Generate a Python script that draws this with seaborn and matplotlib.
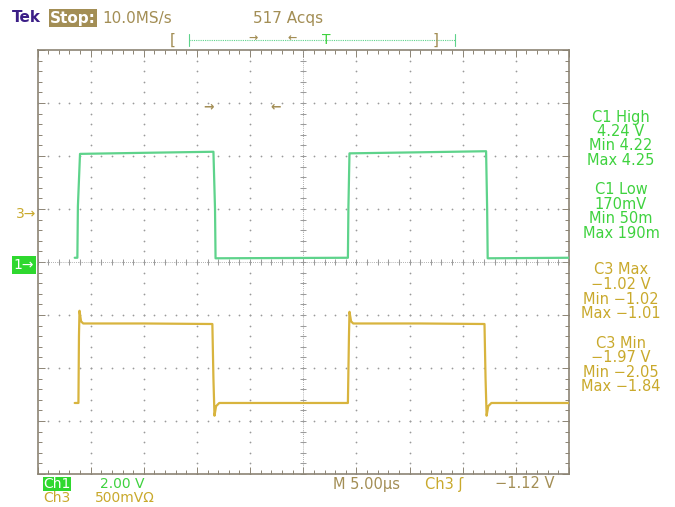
import numpy as np
import pandas as pd
import seaborn as sns
import matplotlib
matplotlib.use("Agg")
import matplotlib.pyplot as plt
from matplotlib.lines import Line2D

# scope settings
time_per_div = 5.0      # us / div
ch1_volts_per_div = 2.0
ch3_volts_per_div = 0.5
ch1_ground_div = 0.0
ch3_ground_div = 1.0

# Ch1 trace (time in us, volts)
ch1_t = [3.5, 3.75, 3.8, 4.0, 10.0, 16.55, 16.7, 16.75, 29.2, 29.25, 29.35, 36.0, 42.2, 42.3, 42.35, 50.0]
ch1_v = [0.16, 0.16, 2.1, 4.08, 4.12, 4.16, 2.0, 0.14, 0.16, 2.1, 4.10, 4.14, 4.18, 2.0, 0.14, 0.16]

# Ch3 trace (time in us, volts)
ch3_t = [3.5, 3.85, 3.9, 3.95, 4.1, 4.3, 10.0, 16.45, 16.55, 16.65, 16.8, 17.1,
         29.2, 29.3, 29.35, 29.5, 29.7, 36.0, 42.05, 42.15, 42.25, 42.4, 42.7, 50.0]
ch3_v = [-1.83, -1.83, -1.2, -0.96, -1.06, -1.08, -1.08, -1.085, -1.6, -1.95, -1.86, -1.83,
         -1.83, -1.2, -0.97, -1.06, -1.08, -1.08, -1.085, -1.6, -1.95, -1.86, -1.83, -1.83]

ch1_meas = ["C1 High", "4.24 V", "Min 4.22", "Max 4.25", "", "C1 Low", "170mV", "Min 50m", "Max 190m"]
ch3_meas = ["C3 Max", "\u22121.02 V", "Min \u22121.02", "Max \u22121.01", "",
            "C3 Min", "\u22121.97 V", "Min \u22122.05", "Max \u22121.84"]

green_trace = "#5ed38b"
yellow_trace = "#d8b43e"
green_text = "#3fd23f"
yellow_text = "#c9a92c"
olive = "#a38e55"
purple = "#3b1e87"
grid_c = "#9a9a9a"
frame_c = "#8c8474"

df = pd.concat([
    pd.DataFrame({"t": ch1_t, "div": np.array(ch1_v) / ch1_volts_per_div + ch1_ground_div, "ch": "Ch1"}),
    pd.DataFrame({"t": ch3_t, "div": np.array(ch3_v) / ch3_volts_per_div + ch3_ground_div, "ch": "Ch3"}),
], ignore_index=True)

sns.set_style("white")
W, H = 675, 507
fig = plt.figure(figsize=(W / 100, H / 100), dpi=100)
ax = fig.add_axes([37.5 / W, 1 - 474 / H, 531.5 / W, 424 / H])


def fpos(x, y):
    return x / W, 1 - y / H


def xdata(px):
    return (px - 37.5) / 531.5 * 50


# graticule dots
minor_x = np.arange(0, 50.01, time_per_div / 5)
minor_y = np.arange(-4, 4.01, 0.2)
for k in range(1, 10):
    xs = np.full(len(minor_y), k * time_per_div)
    ax.scatter(xs, minor_y, s=1.6, color=grid_c, lw=0, zorder=1)
for k in range(-3, 4):
    ys = np.full(len(minor_x), float(k))
    ax.scatter(minor_x, ys, s=1.6, color=grid_c, lw=0, zorder=1)
# centre lines with ticks
ax.axhline(0, color=grid_c, lw=0.6, ls=(0, (1, 1.5)), zorder=1)
ax.axvline(25, color=grid_c, lw=0.6, ls=(0, (1, 1.5)), zorder=1)
ax.scatter(minor_x, np.zeros(len(minor_x)), marker="|", s=14, color=grid_c, lw=0.7, zorder=1)
ax.scatter(np.full(len(minor_y), 25.0), minor_y, marker="_", s=14, color=grid_c, lw=0.7, zorder=1)

sns.lineplot(data=df, x="t", y="div", hue="ch", palette={"Ch1": green_trace, "Ch3": yellow_trace},
             estimator=None, sort=False, legend=False, lw=1.6, ax=ax, zorder=3)

ax.set_xlim(0, 50)
ax.set_ylim(-4, 4)
ax.set_xticks(np.arange(0, 50.01, 5))
ax.set_yticks(np.arange(-4, 4.01, 1))
ax.set_xticks(minor_x, minor=True)
ax.set_yticks(minor_y, minor=True)
ax.tick_params(which="both", direction="in", top=True, right=True, bottom=True, left=True,
               labelbottom=False, labelleft=False, color=frame_c, width=0.7)
ax.tick_params(which="major", length=5)
ax.tick_params(which="minor", length=3)
ax.set_xlabel("")
ax.set_ylabel("")
for s in ax.spines.values():
    s.set_color(frame_c)
    s.set_linewidth(1.2)

# markers inside the screen
ax.text(xdata(209), 2.93, "\u2192", color=olive, fontsize=9, fontweight="bold", ha="center", va="center")
ax.text(xdata(276), 2.93, "\u2190", color=olive, fontsize=9, fontweight="bold", ha="center", va="center")

# header
fig.text(*fpos(12, 18), "Tek", color=purple, fontsize=11, fontweight="bold", va="center")
fig.text(*fpos(50, 18), "Stop:", color="white", fontsize=11, fontweight="bold", va="center",
         bbox=dict(boxstyle="square,pad=0.08", fc=olive, ec="none"))
fig.text(*fpos(102, 18), "10.0MS/s", color=olive, fontsize=11, va="center")
fig.text(*fpos(253, 18), "517 Acqs", color=olive, fontsize=11, va="center")
fig.text(*fpos(170, 40), "[", color=olive, fontsize=11, va="center")
fig.text(*fpos(433, 40), "]", color=olive, fontsize=11, va="center")
fig.add_artist(Line2D([189 / W, 455 / W], [1 - 40 / H] * 2, color=green_trace, lw=0.8, ls=(0, (1, 1))))
for xe in (189, 455):
    fig.add_artist(Line2D([xe / W] * 2, [1 - 34 / H, 1 - 46 / H], color=green_trace, lw=0.8))
fig.text(*fpos(253, 38), "\u2192", color=olive, fontsize=8, ha="center", va="center", fontweight="bold")
fig.text(*fpos(292, 38), "\u2190", color=olive, fontsize=8, ha="center", va="center", fontweight="bold")
fig.text(*fpos(326, 40), "T", color=green_text, fontsize=10, ha="center", va="center")

# channel ground markers
fig.text(*fpos(26, 214), "3\u2192", color=yellow_text, fontsize=10, ha="center", va="center")
fig.text(*fpos(24, 265), "1\u2192", color="white", fontsize=10, ha="center", va="center",
         bbox=dict(boxstyle="square,pad=0.12", fc="#2ed82e", ec="none"))

# measurements
for i, line in enumerate(ch1_meas):
    fig.text(*fpos(621, 117 + i * 14.5), line, color=green_text, fontsize=10.5, ha="center", va="center")
for i, line in enumerate(ch3_meas):
    fig.text(*fpos(621, 270 + i * 14.6), line, color=yellow_text, fontsize=10.5, ha="center", va="center")

# footer
fig.text(*fpos(43, 484), "Ch1", color="white", fontsize=10, va="center",
         bbox=dict(boxstyle="square,pad=0.02", fc="#2ed82e", ec="none"))
fig.text(*fpos(100, 484), "2.00 V", color=green_text, fontsize=10, va="center")
fig.text(*fpos(43, 498), "Ch3", color=yellow_text, fontsize=10, va="center")
fig.text(*fpos(95, 498), "500mV\u03a9", color=yellow_text, fontsize=10, va="center")
fig.text(*fpos(333, 484), "M 5.00\u00b5s", color=olive, fontsize=10.5, va="center")
fig.text(*fpos(425, 484), "Ch3 \u0283", color=yellow_text, fontsize=10.5, va="center")
fig.text(*fpos(495, 484), "\u22121.12 V", color=olive, fontsize=10.5, va="center")

fig.savefig("out.png", dpi=100)
